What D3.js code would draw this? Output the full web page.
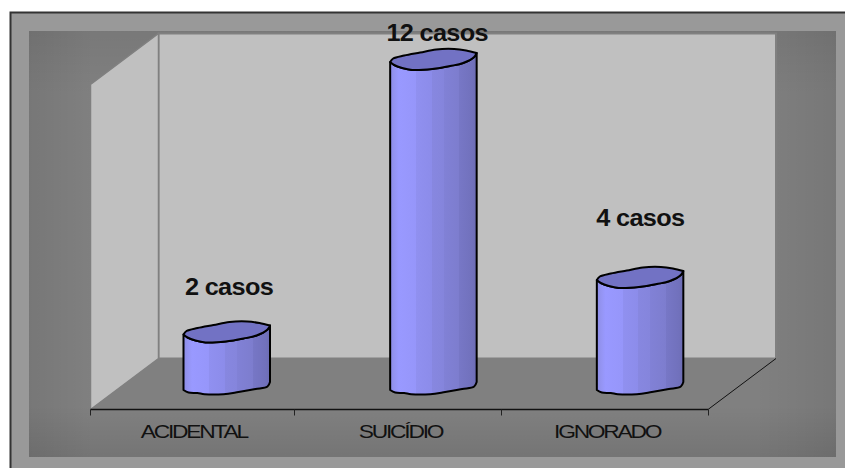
<!DOCTYPE html>
<html>
<head>
<meta charset="utf-8">
<script src="https://cdn.jsdelivr.net/npm/d3@7"></script>
<style>
  html, body { margin: 0; padding: 0; background: #fff; }
  svg { display: block; }
  text { font-family: "Liberation Sans", Arial, sans-serif; fill: #111; }
</style>
</head>
<body>
<div id="chart"></div>
<script>
// Casos por circunstância
const categories = ["ACIDENTAL", "SUICÍDIO", "IGNORADO"];
const caseCounts = [2, 12, 4];
const valueLabels = ["2 casos", "12 casos", "4 casos"];

const width = 845, height = 468;

// Plot box: front floor edge, depth offset of the back wall
const floorLeft = 90.5, floorRight = 708, floorFront = 409.5;
const depthX = 68, depthY = 51;
const wallTop = 33.5;

const x = d3.scaleBand().domain(categories).range([88, floorRight]);
const y = d3.scaleLinear().domain([0, 12]).range([389, 62]);

// Cylinder outline, as offsets from its left rim point
const barOffset = 95.5;
const rimUpper = [[0,0],[3,-3.5],[14,-6.5],[30,-9.5],[46,-12.5],[64,-13],[76,-11.5],[86.5,-9]];
const rimLower = [[86.5,-9],[84,-5],[73,1],[60,4],[42,7],[22,8],[12,6],[4,3],[0,0]];
const baseEdge = [[86.5,-7],[84,-2.5],[72,0],[55,3],[40,5.2],[21,5.2],[14,4],[5,3.5],[0,1]];

const svg = d3.select("#chart").append("svg").attr("width", width).attr("height", height);
const defs = svg.append("defs");

function linearGradient(id, vertical, stops) {
  const g = defs.append("linearGradient").attr("id", id)
    .attr("x1", 0).attr("y1", 0)
    .attr("x2", vertical ? 0 : 1).attr("y2", vertical ? 1 : 0);
  stops.forEach(([o, c, a]) => g.append("stop")
    .attr("offset", o).attr("stop-color", c).attr("stop-opacity", a === undefined ? 1 : a));
}

linearGradient("shadeH", false, [
  [0, "#000", 0.07], [0.08, "#000", 0], [0.9, "#000", 0], [1, "#000", 0.07]
]);
linearGradient("shadeV", true, [
  [0, "#000", 0.06], [0.15, "#000", 0], [0.88, "#000", 0], [1, "#000", 0.09]
]);
// Banded shading round the cylinder body
linearGradient("body", false, [
  [0, "#8c8ce6"], [0.05, "#9494f2"], [0.1, "#9999ff"], [0.3, "#9696fa"],
  [0.3, "#9090f0"], [0.48, "#8c8cea"], [0.48, "#8787e0"], [0.62, "#8585dc"],
  [0.62, "#8181d6"], [0.8, "#7d7dce"], [0.8, "#7777c6"], [0.95, "#7171bc"], [1, "#6c6cb2"]
]);

// Chart area and inner panel
svg.append("rect").attr("x", 10.5).attr("y", 12.5)
  .attr("width", width + 10).attr("height", height + 10)
  .attr("fill", "#999").attr("stroke", "#333").attr("stroke-width", 2);

const panel = { x: 29, y: 31, width: 807, height: 426 };
["#808080", "url(#shadeH)", "url(#shadeV)"].forEach(fill => {
  svg.append("rect").attr("x", panel.x).attr("y", panel.y)
    .attr("width", panel.width).attr("height", panel.height).attr("fill", fill);
});

const polyLine = d3.line();

// Back wall, side wall and floor
svg.append("rect").attr("x", floorLeft + depthX).attr("y", wallTop)
  .attr("width", floorRight - floorLeft).attr("height", floorFront - depthY - wallTop)
  .attr("fill", "#c0c0c0").attr("stroke", "#808080").attr("stroke-width", 2);
svg.append("path")
  .attr("d", polyLine([
    [floorLeft, wallTop + depthY], [floorLeft + depthX, wallTop],
    [floorLeft + depthX, floorFront - depthY], [floorLeft, floorFront]
  ]) + "Z")
  .attr("fill", "#c0c0c0").attr("stroke", "#808080").attr("stroke-width", 1.5);
svg.append("path")
  .attr("d", polyLine([
    [floorLeft, floorFront], [floorRight, floorFront],
    [floorRight + depthX, floorFront - depthY], [floorLeft + depthX, floorFront - depthY]
  ]) + "Z")
  .attr("fill", "#808080");

// Front axis with ticks at the band boundaries
const axisG = svg.append("g");
axisG.append("line").attr("x1", floorLeft).attr("x2", floorRight)
  .attr("y1", floorFront).attr("y2", floorFront)
  .attr("stroke", "#111").attr("stroke-width", 1.4);
axisG.append("line").attr("x1", floorRight).attr("x2", floorRight + depthX)
  .attr("y1", floorFront).attr("y2", floorFront - depthY)
  .attr("stroke", "#111").attr("stroke-width", 1);
axisG.selectAll("line.tick")
  .data([floorLeft, ...categories.slice(1).map(c => x(c)), floorRight])
  .join("line").attr("class", "tick")
  .attr("x1", d => Math.floor(d) + 0.5).attr("x2", d => Math.floor(d) + 0.5)
  .attr("y1", floorFront).attr("y2", floorFront + 6)
  .attr("stroke", "#222").attr("stroke-width", 1);

// Category names: condensed spacing on slightly widened glyphs
axisG.selectAll("text.cat")
  .data(categories)
  .join("text").attr("class", "cat")
  .attr("transform", d => `translate(${x(d) + x.bandwidth() / 2 + 2.5},438) scale(1.2,1)`)
  .attr("text-anchor", "middle")
  .attr("font-size", 19)
  .attr("letter-spacing", -1.85)
  .text(d => d);

// Cylinders
const smooth = d3.line().curve(d3.curveCatmullRom.alpha(0.5));
const rows = categories.map((c, i) => ({ c, v: caseCounts[i], label: valueLabels[i] }));

const bars = svg.selectAll("g.bar").data(rows).join("g").attr("class", "bar")
  .attr("transform", d => `translate(${x(d.c) + barOffset},${y(d.v)})`);

bars.append("path")
  .attr("d", d => {
    const drop = y(0) - y(d.v);
    const top = smooth(rimLower.slice().reverse());
    const base = smooth(baseEdge.map(([a, b]) => [a, b + drop]));
    return top + "L" + base.slice(1) + "Z";
  })
  .attr("fill", "url(#body)")
  .attr("stroke", "#000").attr("stroke-width", 2).attr("stroke-linejoin", "round");

bars.append("path")
  .attr("d", smooth(rimUpper) + "L" + smooth(rimLower).slice(1) + "Z")
  .attr("fill", "#7272c4")
  .attr("stroke", "#000").attr("stroke-width", 2).attr("stroke-linejoin", "round");

// Value captions, each lifted by hand above its cylinder
const captionLift = [39.5, 21, 54];
const captionShift = [45.5, 47, 43.5];
svg.selectAll("text.value").data(rows).join("text").attr("class", "value")
  .attr("transform", (d, i) =>
    `translate(${x(d.c) + barOffset + captionShift[i]},${y(d.v) - captionLift[i]}) scale(1.1,1)`)
  .attr("text-anchor", "middle")
  .attr("font-size", 23)
  .attr("font-weight", "bold")
  .attr("letter-spacing", -0.6)
  .text(d => d.label);
</script>
</body>
</html>
